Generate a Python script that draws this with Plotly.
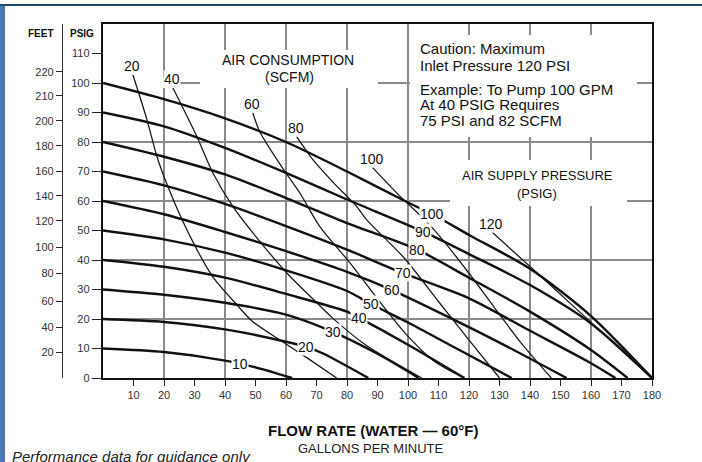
import numpy as np
import plotly.graph_objects as go

# ---------------- data ----------------
X_TICKS = [10, 20, 30, 40, 50, 60, 70, 80, 90, 100, 110, 120, 130, 140, 150, 160, 170, 180]
PSIG_TICKS = [0, 10, 20, 30, 40, 50, 60, 70, 80, 90, 100, 110]
FEET_TICK_LABELS = [20, 40, 60, 80, 100, 120, 140, 160, 180, 200, 210, 220]
FEET_TICK_AT_PSIG = [8.6, 17.1, 25.9, 35.4, 44.2, 53.3, 61.8, 70.0, 78.7, 87.2, 95.7, 103.8]
GRID_GPM = [20, 40, 60, 80, 100, 120, 140, 160]
GRID_PSIG = [20, 40, 60, 80, 100]

# air supply pressure curves (discharge PSIG vs GPM)
AIR_PRESSURES = [10, 20, 30, 40, 50, 60, 70, 80, 90, 100]
P10_GPM = [0, 20, 40, 50, 62]
P10_PSIG = [10, 8.8, 5.9, 3.6, 0]
P20_GPM = [0, 20, 40, 60, 67, 72, 87]
P20_PSIG = [20, 19, 16.5, 12.3, 10.4, 8.4, 0]
P30_GPM = [0, 20, 40, 60, 75, 90, 103.5]
P30_PSIG = [30, 28.2, 25.5, 21.5, 15.8, 8.2, 0]
P40_GPM = [0, 20, 40, 60, 80, 84, 100, 118.5]
P40_PSIG = [40, 37.7, 34, 28.5, 22.5, 20.4, 11.3, 0]
P50_GPM = [0, 20, 40, 60, 80, 88, 100, 115, 134]
P50_PSIG = [50, 47, 42.5, 36.5, 29.5, 25, 18.8, 10.5, 0]
P60_GPM = [0, 20, 40, 60, 80, 94.6, 115, 130, 152]
P60_PSIG = [60, 55.5, 49.5, 43, 36, 29.9, 19.8, 12, 0]
P70_GPM = [0, 20, 40, 60, 80, 98, 120, 140, 160, 168]
P70_PSIG = [70, 65.3, 59, 51.5, 43.5, 35.7, 27, 16, 5, 0]
P80_GPM = [0, 20, 40, 60, 80, 103, 120, 140, 160, 172]
P80_PSIG = [80, 75, 69, 61, 52.5, 43.5, 34, 22.5, 9.5, 0]
P90_GPM = [0, 20, 40, 60, 80, 105, 120, 140, 160, 180]
P90_PSIG = [90, 85.3, 78, 69.5, 60.5, 49.6, 42, 31.5, 18.5, 0]
P100_GPM = [0, 20, 40, 60, 80, 100, 108, 120, 140, 160, 180]
P100_PSIG = [100, 94.5, 88, 80, 70, 59.5, 55.5, 48.5, 37, 21, 0]
P_LABEL_GPM = [45, 66.5, 75.3, 84, 88, 94.6, 98.2, 103, 105, 108]

# air consumption curves (SCFM)
SCFM_VALUES = [20, 40, 60, 80, 100, 120]
S20_GPM = [9.8, 14.4, 17.7, 21.3, 25.9, 30.8, 36.0, 43.9, 49.1, 58.9, 66.8, 76.6]
S20_PSIG = [102.8, 87.6, 75.0, 64.8, 53.7, 43.5, 34.3, 24.8, 19.1, 12.3, 6.9, 0]
S40_GPM = [22.9, 30.8, 36.0, 42.6, 50.4, 60.2, 70.1, 75.3, 86.4, 104.5]
S40_PSIG = [98.4, 81.8, 69.6, 58.1, 47.6, 35.7, 25.5, 20.3, 11.0, 0]
S60_GPM = [49.1, 51.4, 58.6, 64.5, 71.1, 80.9, 90.7, 98.9, 108.7, 118.5]
S60_PSIG = [89.9, 83.5, 71.6, 62.8, 51.3, 39.1, 25.9, 15.4, 5.6, 0]
S80_GPM = [63.5, 68.8, 75.3, 83.2, 86.4, 98.9, 110.3, 119.5, 130]
S80_PSIG = [81.8, 74.0, 66.5, 58.1, 53.7, 40.5, 25.5, 13.5, 0]
S100_GPM = [88.4, 97, 106.1, 111.3, 120, 128.4, 137, 147]
S100_PSIG = [71.3, 62, 53.0, 46.9, 35.5, 23.8, 12, 0]
S120_GPM = [127.7, 140, 155, 168, 180]
S120_PSIG = [49.3, 37.8, 23.6, 11.3, 0]

# ---------------- layout geometry ----------------
W, H = 702, 462
ML, MR, MT, MB = 20, 50, 24, 84
PW, PH = W - ML - MR, H - MT - MB
X0_PX = 103                      # left edge of the plotting area
XDOM0 = (X0_PX - ML) / PW
FEET_AXIS_PX = 62


def pxx(x):
    return (x - ML) / PW


def pxy(y):
    return (H - MB - y) / PH


def gx(x):   # pixel -> gpm (for shapes in data space)
    return (x - X0_PX) / (W - MR - X0_PX) * 180


def gy(y):   # pixel -> psig
    return (H - MB - y) / PH * 120


FONT = "Liberation Sans, Arial, sans-serif"
INK = "#111111"

P_GPM = [P10_GPM, P20_GPM, P30_GPM, P40_GPM, P50_GPM, P60_GPM, P70_GPM, P80_GPM, P90_GPM, P100_GPM]
P_PSIG = [P10_PSIG, P20_PSIG, P30_PSIG, P40_PSIG, P50_PSIG, P60_PSIG, P70_PSIG, P80_PSIG, P90_PSIG, P100_PSIG]
S_GPM = [S20_GPM, S40_GPM, S60_GPM, S80_GPM, S100_GPM, S120_GPM]
S_PSIG = [S20_PSIG, S40_PSIG, S60_PSIG, S80_PSIG, S100_PSIG, S120_PSIG]

fig = go.Figure()

# dummy traces so the overlay axes (feet scale, grid) exist
fig.add_trace(go.Scatter(x=[None], y=[None], yaxis="y2", showlegend=False, hoverinfo="skip"))
fig.add_trace(go.Scatter(x=[None], y=[None], xaxis="x2", yaxis="y3", showlegend=False, hoverinfo="skip"))

for scfm, gpm, psig in zip(SCFM_VALUES, S_GPM, S_PSIG):
    fig.add_trace(go.Scatter(x=gpm, y=psig, mode="lines", name=f"{scfm} SCFM",
                             line=dict(color="#1a1a1a", width=1.3, shape="spline", smoothing=0.8),
                             showlegend=False, hoverinfo="skip"))

for p, gpm, psig in zip(AIR_PRESSURES, P_GPM, P_PSIG):
    fig.add_trace(go.Scatter(x=gpm, y=psig, mode="lines", name=f"{p} PSIG",
                             line=dict(color=INK, width=2.4, shape="spline", smoothing=0.8),
                             showlegend=False, hoverinfo="skip"))

annotations = []
# pressure labels, sitting on their curves (white box breaks the line)
for p, gpm, psig, lx in zip(AIR_PRESSURES, P_GPM, P_PSIG, P_LABEL_GPM):
    annotations.append(dict(x=lx, y=float(np.interp(lx, gpm, psig)), xref="x", yref="y",
                            text=str(p), showarrow=False, bgcolor="white", borderpad=0,
                            font=dict(family=FONT, size=14, color=INK)))
# air-consumption labels at the top end of their curves
for s, gpm, psig in zip(SCFM_VALUES, S_GPM, S_PSIG):
    annotations.append(dict(x=gpm[0], y=psig[0], xref="x", yref="y", yshift=9, xshift=-1,
                            text=str(s), showarrow=False, bgcolor="white", borderpad=0,
                            font=dict(family=FONT, size=14, color=INK)))


def txt(x, y, text, size, anchor="center", bold=False, italic=False, color=INK):
    if bold:
        text = f"<b>{text}</b>"
    if italic:
        text = f"<i>{text}</i>"
    annotations.append(dict(x=pxx(x), y=pxy(y), xref="paper", yref="paper", text=text,
                            showarrow=False, xanchor=anchor, yanchor="middle",
                            font=dict(family=FONT, size=size, color=color)))


txt(288, 60, "AIR CONSUMPTION", 14)
txt(289, 77, "(SCFM)", 14)
txt(418, 49, "Caution: Maximum", 15, "left")
txt(418, 65, "Inlet Pressure 120 PSI", 15, "left")
txt(418, 90, "Example: To Pump 100 GPM", 15, "left")
txt(418, 105, "At 40 PSIG Requires", 15, "left")
txt(418, 120, "75 PSI and 82 SCFM", 15, "left")
txt(537, 175, "AIR SUPPLY PRESSURE", 13)
txt(537, 193, "(PSIG)", 13)
txt(41, 33, "FEET", 10, bold=True)
txt(82, 33, "PSIG", 10, bold=True)
txt(373, 430, "FLOW RATE (WATER — 60°F)", 15, bold=True)
txt(371, 448, "GALLONS PER MINUTE", 13, color="#222")
txt(10, 456, "Performance data for guidance only", 15, "left", italic=True, color="#222")

# white patches that interrupt the grid behind the text blocks
gaps = [(103, 170, 78, 88), (200, 378, 50, 88), (410, 637, 35, 137), (450, 627, 160, 206)]
shapes = []
for x0, x1, y0, y1 in gaps:
    shapes.append(dict(type="rect", xref="x", yref="y", x0=gx(x0), x1=gx(x1), y0=gy(y1), y1=gy(y0),
                       fillcolor="white", line=dict(width=0), layer="between"))
# blue frame of the picture
shapes.append(dict(type="rect", xref="paper", yref="paper", x0=pxx(0), x1=pxx(3), y0=pxy(H), y1=pxy(5),
                   fillcolor="#4a7db5", line=dict(width=0), layer="above"))
shapes.append(dict(type="line", xref="paper", yref="paper", x0=pxx(4), x1=pxx(4), y0=pxy(H), y1=pxy(5),
                   line=dict(color="#23446b", width=1.5), layer="above"))
shapes.append(dict(type="line", xref="paper", yref="paper", x0=pxx(0), x1=pxx(W), y0=pxy(5), y1=pxy(5),
                   line=dict(color="#23446b", width=2), layer="above"))

tickfont = dict(family=FONT, size=11, color="#333")

fig.update_layout(
    width=W, height=H,
    margin=dict(l=ML, r=MR, t=MT, b=MB, pad=0),
    paper_bgcolor="white", plot_bgcolor="white",
    showlegend=False,
    xaxis=dict(domain=[XDOM0, 1], range=[0, 180], tickmode="array", tickvals=X_TICKS,
               ticks="outside", ticklen=6, tickwidth=1.3, tickcolor="#222",
               showline=True, linecolor="#111", linewidth=2.4, mirror=True,
               showgrid=False, zeroline=False, tickfont=tickfont, fixedrange=True),
    yaxis=dict(range=[0, 120], tickmode="array", tickvals=PSIG_TICKS, anchor="x",
               ticks="outside", ticklen=9, tickwidth=1.3, tickcolor="#222",
               showline=True, linecolor="#111", linewidth=2.4, mirror=True,
               showgrid=False, zeroline=False, tickfont=tickfont, fixedrange=True),
    yaxis2=dict(range=[0, 120], overlaying="y", anchor="free", side="left",
                position=pxx(FEET_AXIS_PX), tickmode="array", tickvals=FEET_TICK_AT_PSIG,
                ticktext=[str(v) for v in FEET_TICK_LABELS], ticks="outside", ticklen=6,
                tickwidth=1.3, tickcolor="#222", showline=True, linecolor="#333", linewidth=1.3,
                showgrid=False, zeroline=False, tickfont=tickfont, fixedrange=True),
    xaxis2=dict(range=[0, 180], overlaying="x", anchor="y", tickmode="array", tickvals=GRID_GPM,
                showticklabels=False, ticks="", showline=False, showgrid=True,
                gridcolor="#8a8a8a", gridwidth=1.5, zeroline=False, fixedrange=True),
    yaxis3=dict(range=[0, 120], overlaying="y", anchor="x", tickmode="array", tickvals=GRID_PSIG,
                showticklabels=False, ticks="", showline=False, showgrid=True,
                gridcolor="#8a8a8a", gridwidth=1.5, zeroline=False, fixedrange=True),
    annotations=annotations,
    shapes=shapes,
)

fig.write_html("out.html", config={"displayModeBar": False},
               post_script="document.body.style.margin='0';document.body.style.overflow='hidden';")
